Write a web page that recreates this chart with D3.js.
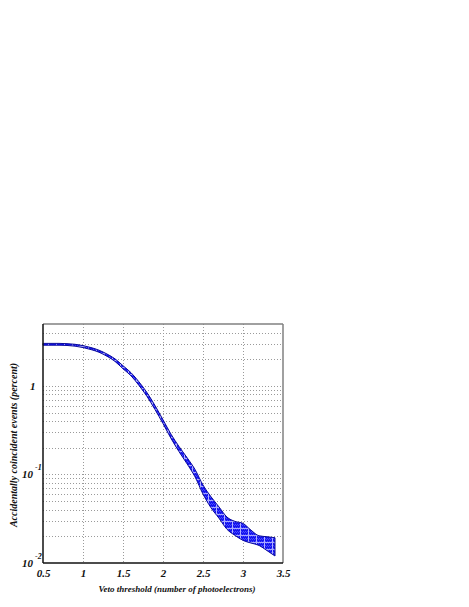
<!DOCTYPE html>
<html>
<head>
<meta charset="utf-8">
<script src="https://cdn.jsdelivr.net/npm/d3@7"></script>
<style>
  body { margin: 0; background: #fff; }
  text { font-family: "Liberation Serif", "DejaVu Serif", serif; font-weight: bold; font-style: italic; }
</style>
</head>
<body>
<svg id="chart"></svg>
<script>
// veto threshold (photoelectrons) and the upper / lower edge of the band (percent)
let thresholds = [0.5, 0.6, 0.7, 0.8, 0.9, 1.0, 1.1, 1.2, 1.3, 1.4, 1.5, 1.6, 1.7, 1.8, 1.9,
                  2.0, 2.1, 2.2, 2.3, 2.4, 2.5, 2.6, 2.7, 2.8, 2.9, 3.0, 3.1, 3.2, 3.3, 3.4]
let upperPct = [3.02, 3.02, 3.02, 3.00, 2.95, 2.85, 2.71, 2.53, 2.29, 2.02, 1.69, 1.41, 1.11, 0.84, 0.60,
                0.415, 0.285, 0.207, 0.155, 0.114, 0.076, 0.056, 0.043, 0.033, 0.0295, 0.028, 0.0235, 0.0203, 0.0198, 0.0193]
let lowerPct = [2.88, 2.88, 2.88, 2.86, 2.81, 2.71, 2.57, 2.40, 2.16, 1.89, 1.56, 1.30, 1.01, 0.76, 0.54,
                0.375, 0.255, 0.181, 0.132, 0.094, 0.060, 0.042, 0.032, 0.024, 0.0205, 0.018, 0.0168, 0.0158, 0.0138, 0.0120]

let xTicks = [0.5, 1, 1.5, 2, 2.5, 3, 3.5]
let yLabels = [{v: 1, base: "1", exp: ""}, {v: 0.1, base: "10", exp: "-1"}, {v: 0.01, base: "10", exp: "-2"}]

let data = thresholds.map((t, i) => ({x: t, hi: upperPct[i], lo: lowerPct[i]}))

let width = 469
let height = 607
let plot = {left: 43, right: 283, top: 324, bottom: 563}

let xScale = d3.scaleLinear().domain([0.5, 3.5]).range([plot.left, plot.right])
let yScale = d3.scaleLog().domain([0.01, 5]).range([plot.bottom, plot.top])

let svg = d3.select("#chart")
    .attr("width", width)
    .attr("height", height)

// hatch pattern for the band
let defs = svg.append("defs")
let pat = defs.append("pattern")
    .attr("id", "hatch")
    .attr("patternUnits", "userSpaceOnUse")
    .attr("width", 8)
    .attr("height", 7)
pat.append("rect").attr("width", 8).attr("height", 7).attr("fill", "#1414ee")
for (let i = 0; i < 8; i += 2) {
    for (let j = 0; j < 7; j += 2) {
        pat.append("rect").attr("x", i + (j % 4 ? 1 : 0)).attr("y", j).attr("width", 1).attr("height", 1)
            .attr("fill", "#4a4aff")
    }
}
pat.append("rect").attr("x", 0).attr("y", 0).attr("width", 1).attr("height", 7).attr("fill", "#b0b0ff")
pat.append("rect").attr("x", 0).attr("y", 3).attr("width", 8).attr("height", 1).attr("fill", "#a8a8ff")

// grid
let grid = svg.append("g").attr("id", "grid")
let yGrid = []
for (let dec of [0.01, 0.1, 1]) {
    for (let k = 1; k <= 9; k++) {
        let v = dec * k
        if (v > 0.01 && v < 5) yGrid.push(v)
    }
}
grid.selectAll(".hgrid")
    .data(yGrid)
    .enter()
    .append("line")
    .attr("x1", plot.left)
    .attr("x2", plot.right)
    .attr("y1", d => Math.round(yScale(d)) + 0.5)
    .attr("y2", d => Math.round(yScale(d)) + 0.5)
    .attr("stroke", "#9a9a9a")
    .attr("stroke-width", 1)
    .attr("stroke-dasharray", "1,2")

grid.selectAll(".vgrid")
    .data(xTicks.slice(1, -1))
    .enter()
    .append("line")
    .attr("x1", d => Math.round(xScale(d)) + 0.5)
    .attr("x2", d => Math.round(xScale(d)) + 0.5)
    .attr("y1", plot.top)
    .attr("y2", plot.bottom)
    .attr("stroke", "#9a9a9a")
    .attr("stroke-width", 1)
    .attr("stroke-dasharray", "1,2")

// band
let area = d3.area()
    .curve(d3.curveMonotoneX)
    .x(d => xScale(d.x))
    .y0(d => yScale(d.lo))
    .y1(d => yScale(d.hi))

svg.append("path")
    .datum(data)
    .attr("d", area)
    .attr("fill", "url(#hatch)")
    .attr("stroke", "#0a0a9a")
    .attr("stroke-width", 1)

// frame
svg.append("line").attr("x1", plot.left).attr("x2", plot.right).attr("y1", plot.top).attr("y2", plot.top)
    .attr("stroke", "#808080").attr("stroke-width", 1.5)
svg.append("line").attr("x1", plot.right).attr("x2", plot.right).attr("y1", plot.top).attr("y2", plot.bottom)
    .attr("stroke", "#808080").attr("stroke-width", 1.5)
svg.append("line").attr("x1", plot.left).attr("x2", plot.left).attr("y1", plot.top).attr("y2", plot.bottom)
    .attr("stroke", "#111").attr("stroke-width", 1.5)
svg.append("line").attr("x1", plot.left).attr("x2", plot.right).attr("y1", plot.bottom).attr("y2", plot.bottom)
    .attr("stroke", "#111").attr("stroke-width", 1.5)

// x axis labels
svg.append("g")
    .attr("id", "x_axis")
    .attr("transform", "translate(0," + plot.bottom + ")")
    .call(d3.axisBottom(xScale).tickValues(xTicks).tickSize(0).tickPadding(6).tickFormat(d3.format("")))
    .call(g => g.select(".domain").remove())
    .call(g => g.selectAll("text")
        .attr("font-size", 11)
        .attr("fill", "#111")
        .style("font-family", "Liberation Serif")
        .style("font-weight", "bold")
        .style("font-style", "italic"))

// y axis labels with exponents
let yl = svg.append("g").attr("id", "y_axis")
yLabels.forEach(function(d) {
    let t = yl.append("text")
        .attr("x", d.exp ? 22 : 30)
        .attr("y", yScale(d.v) + 4)
        .attr("font-size", 11)
        .attr("fill", "#111")
    t.append("tspan").text(d.base)
    if (d.exp) {
        t.append("tspan").text(d.exp)
            .attr("font-size", 8)
            .attr("dx", 2)
            .attr("dy", -8)
    }
})

svg.append("text")
    .text("Veto threshold (number of photoelectrons)")
    .attr("x", 177)
    .attr("y", 592)
    .attr("text-anchor", "middle")
    .attr("font-size", 9)
    .attr("fill", "#111")

svg.append("text")
    .text("Accidentally coincident events (percent)")
    .attr("text-anchor", "middle")
    .attr("font-size", 10)
    .attr("fill", "#111")
    .attr("transform", "translate(17, 445) rotate(270)")
</script>
</body>
</html>
